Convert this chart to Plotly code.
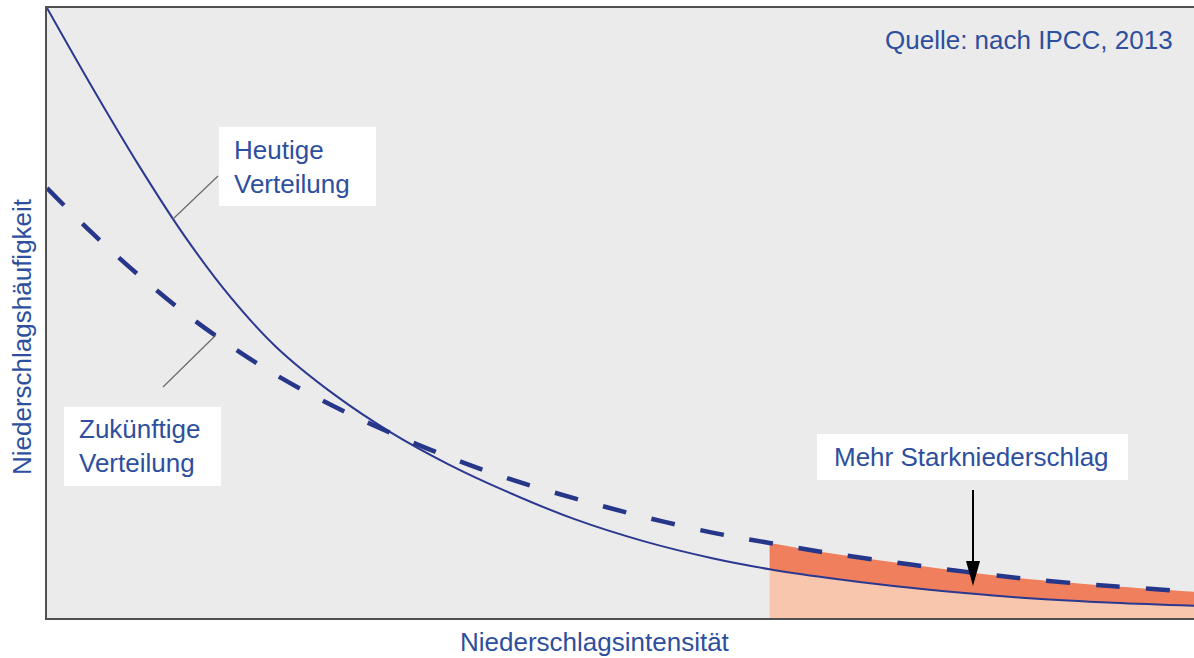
import plotly.graph_objects as go

# ---- data (arbitrary units: intensity 0..100, frequency 0..100) ----
intensity = [0, 4, 8, 12, 16, 20, 25, 30, 35, 40, 46, 52, 58, 63, 68, 74, 80, 86, 93, 100]
heute = [100.0, 86.8, 74.2, 62.6, 52.6, 44.4, 36.7, 30.4, 25.2, 20.8, 16.2, 12.6, 9.8, 8.0, 6.6, 5.2, 4.1, 3.2, 2.5, 2.0]
zukunft = [70.5, 63.0, 56.2, 50.0, 44.6, 39.8, 34.7, 30.3, 26.4, 23.0, 19.6, 16.6, 14.0, 12.3, 10.7, 9.1, 7.6, 6.3, 5.2, 4.3]
extreme_start = 63  # start of heavy-precipitation region

TEXT_BLUE = "#2d4f9e"
LINE_BLUE = "#2b388f"
FONT = "Liberation Sans, Arial, sans-serif"

W, H = 1194, 658
L, R, T, B = 47, 0, 8, 40
PW, PH = W - L - R, H - T - B


def px(x):
    return (x - L) / PW


def py(y):
    return (H - B - y) / PH


idx = [i for i, v in enumerate(intensity) if v >= extreme_start]
xs = [intensity[i] for i in idx]

fig = go.Figure()
fig.add_trace(go.Scatter(x=xs, y=[heute[i] for i in idx], mode="lines", line=dict(width=0, shape="spline"),
                         fill="tozeroy", fillcolor="#f8c5ad", hoverinfo="skip", showlegend=False))
fig.add_trace(go.Scatter(x=xs, y=[zukunft[i] for i in idx], mode="lines", line=dict(width=0, shape="spline"),
                         fill="tonexty", fillcolor="#f07f5d", hoverinfo="skip", showlegend=False))
fig.add_trace(go.Scatter(x=intensity, y=heute, mode="lines", name="Heutige Verteilung",
                         line=dict(color=LINE_BLUE, width=2, shape="spline"), showlegend=False))
fig.add_trace(go.Scatter(x=intensity, y=zukunft, mode="lines", name="Zukünftige Verteilung",
                         line=dict(color="#263689", width=4.5, shape="spline", dash="24px,26px"),
                         showlegend=False))

shapes = []
# white label boxes
for (x0, y0, x1, y1) in [(219, 127, 376, 206), (64, 407, 221, 486), (817, 434, 1128, 480)]:
    shapes.append(dict(type="rect", xref="paper", yref="paper", x0=px(x0), x1=px(x1), y0=py(y1), y1=py(y0),
                       fillcolor="white", line=dict(width=0), layer="above"))
# leader lines
for (x0, y0, x1, y1) in [(173, 219, 218, 176), (163, 387, 216, 335)]:
    shapes.append(dict(type="line", xref="paper", yref="paper", x0=px(x0), x1=px(x1), y0=py(y0), y1=py(y1),
                       line=dict(color="#6a6a6a", width=1.2), layer="above"))
# arrow (shaft + narrow head)
shapes.append(dict(type="line", xref="paper", yref="paper", x0=px(973), x1=px(973), y0=py(490), y1=py(566),
                   line=dict(color="black", width=2), layer="above"))
shapes.append(dict(type="path", xref="paper", yref="paper",
                   path=f"M {px(966)},{py(561)} L {px(980)},{py(561)} L {px(973)},{py(586)} Z",
                   fillcolor="black", line=dict(width=0), layer="above"))

annotations = [
    dict(text="Heutige<br>Verteilung", x=px(232), y=py(166.5), xanchor="left", yanchor="middle", align="left"),
    dict(text="Zukünftige<br>Verteilung", x=px(77), y=py(446.5), xanchor="left", yanchor="middle", align="left"),
    dict(text="Mehr Starkniederschlag", x=px(971), y=py(457), xanchor="center", yanchor="middle"),
    dict(text="Quelle: nach IPCC, 2013", x=px(1175), y=py(40), xanchor="right", yanchor="middle"),
    dict(text="Niederschlagsintensität", x=px(595), y=py(642), xanchor="center", yanchor="middle"),
    dict(text="Niederschlagshäufigkeit", x=px(22), y=py(337), xanchor="center", yanchor="middle", textangle=-90),
]
for a in annotations:
    a.update(xref="paper", yref="paper", showarrow=False, font=dict(family=FONT, size=26, color=TEXT_BLUE))

fig.update_layout(
    width=W, height=H,
    margin=dict(l=L, r=R, t=T, b=B, pad=0),
    paper_bgcolor="white", plot_bgcolor="#ebebeb",
    shapes=shapes, annotations=annotations,
    xaxis=dict(range=[0, 100], showgrid=False, zeroline=False, showticklabels=False, ticks="",
               showline=True, linecolor="#505050", linewidth=2, mirror=True),
    yaxis=dict(range=[0, 100], showgrid=False, zeroline=False, showticklabels=False, ticks="",
               showline=True, linecolor="#505050", linewidth=2),
    font=dict(family=FONT),
)

fig.write_html("out.html", config={"displayModeBar": False},
               post_script="document.body.style.margin='0';document.body.style.overflow='hidden';")
